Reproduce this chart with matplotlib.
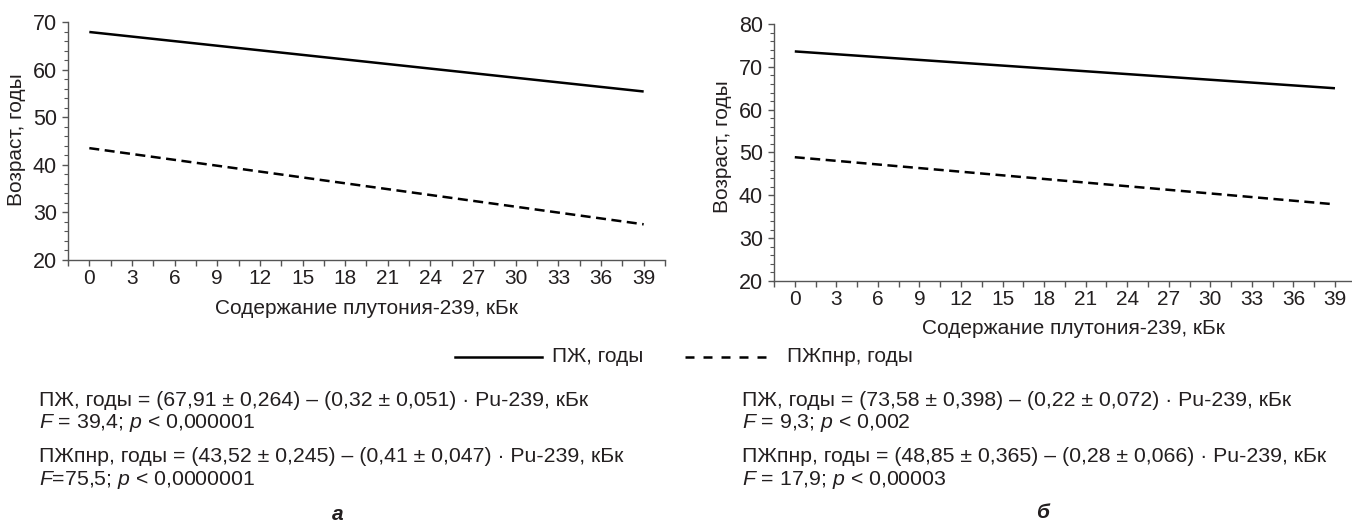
import matplotlib
matplotlib.use("Agg")
import matplotlib.pyplot as plt
from matplotlib.lines import Line2D
from matplotlib.ticker import MultipleLocator

plt.rcParams['font.family'] = ['Liberation Sans', 'DejaVu Sans']
plt.rcParams['mathtext.fontset'] = 'custom'
plt.rcParams['mathtext.rm'] = 'Liberation Sans'
plt.rcParams['mathtext.it'] = 'Liberation Sans:italic'

# ---- data ----
x_ends = [0, 39]
a_pzh = [67.9, 55.4]
a_pzhpnr = [43.5, 27.5]
b_pzh = [73.6, 65.0]
b_pzhpnr = [48.9, 37.9]
x_ticks = list(range(0, 40, 3))
a_yticks = [20, 30, 40, 50, 60, 70]
b_yticks = [20, 30, 40, 50, 60, 70, 80]

xlabel = "Содержание плутония-239, кБк"
ylabel = "Возраст, годы"
leg1 = "ПЖ, годы"
leg2 = "ПЖпнр, годы"

eq_a = ["ПЖ, годы = (67,91 ± 0,264) – (0,32 ± 0,051) · Pu-239, кБк",
        "$\\mathit{F}$ = 39,4; $\\mathit{p}$ < 0,000001",
        "ПЖпнр, годы = (43,52 ± 0,245) – (0,41 ± 0,047) · Pu-239, кБк",
        "$\\mathit{F}$=75,5; $\\mathit{p}$ < 0,0000001"]
eq_b = ["ПЖ, годы = (73,58 ± 0,398) – (0,22 ± 0,072) · Pu-239, кБк",
        "$\\mathit{F}$ = 9,3; $\\mathit{p}$ < 0,002",
        "ПЖпнр, годы = (48,85 ± 0,365) – (0,28 ± 0,066) · Pu-239, кБк",
        "$\\mathit{F}$ = 17,9; $\\mathit{p}$ < 0,00003"]

W, H = 1352, 522
fig = plt.figure(figsize=(W / 100, H / 100), dpi=100)

def fx(px):
    return px / W

def fy(py):
    return 1 - py / H

spine_col = '#555555'
txt_col = '#231f20'
FS = 15
LW = 1.8

def make_ax(rect, ylim, yticks, xlim):
    ax = fig.add_axes(rect)
    ax.set_xlim(*xlim)
    ax.set_ylim(*ylim)
    for s in ['top', 'right']:
        ax.spines[s].set_visible(False)
    for s in ['left', 'bottom']:
        ax.spines[s].set_color(spine_col)
        ax.spines[s].set_linewidth(1.0)
    ax.set_xticks(x_ticks)
    ax.xaxis.set_minor_locator(MultipleLocator(1.5))
    ax.set_yticks(yticks)
    ax.yaxis.set_minor_locator(MultipleLocator(2))
    ax.tick_params(axis='x', which='both', direction='out', length=4, width=1,
                   color=spine_col, labelsize=FS, pad=2.5, labelcolor=txt_col)
    ax.tick_params(axis='y', which='major', direction='out', length=4, width=1,
                   color=spine_col, labelsize=FS + 0.5, pad=4, labelcolor=txt_col)
    ax.tick_params(axis='y', which='minor', direction='out', length=3, width=0.8,
                   color=spine_col)
    ax.patch.set_alpha(0)
    return ax

dash_plot = (4.0, 2.2)

ax1 = make_ax([fx(68), fy(260), fx(665) - fx(68), fy(22) - fy(260)],
              (20, 70), a_yticks, (-1.5, 40.5))
ax1.plot(x_ends, a_pzh, color='black', lw=LW, solid_capstyle='butt')
ax1.plot(x_ends, a_pzhpnr, color='black', lw=LW, ls=(0, dash_plot))

ax2 = make_ax([fx(774), fy(281), 1 - fx(774), fy(24) - fy(281)],
              (20, 80), b_yticks, (-1.5, 40.23))
ax2.plot(x_ends, b_pzh, color='black', lw=LW, solid_capstyle='butt')
ax2.plot(x_ends, b_pzhpnr, color='black', lw=LW, ls=(0, dash_plot))

# axis labels
fig.text(fx(17), fy(140), ylabel, rotation=90, ha='center', va='center',
         fontsize=FS, color=txt_col)
fig.text(fx(722), fy(147), ylabel, rotation=90, ha='center', va='center',
         fontsize=FS, color=txt_col)
fig.text(fx(366), fy(308), xlabel, ha='center', va='center', fontsize=FS, color=txt_col)
fig.text(fx(1073), fy(328), xlabel, ha='center', va='center', fontsize=FS, color=txt_col)

# legend (drawn in figure coordinates)
ly = fy(357)
fig.add_artist(Line2D([fx(455), fx(542)], [ly, ly], color='black', lw=LW,
                      transform=fig.transFigure))
fig.text(fx(552), ly, leg1, ha='left', va='center', fontsize=FS, color=txt_col)
fig.add_artist(Line2D([fx(685), fx(770)], [ly, ly], color='black', lw=LW,
                      ls=(0, (3.6, 3.6)), transform=fig.transFigure))
fig.text(fx(787), ly, leg2, ha='left', va='center', fontsize=FS, color=txt_col)

# equations
line_y = [400, 423, 457, 480]
for t, yy in zip(eq_a, line_y):
    fig.text(fx(39), fy(yy), t, ha='left', va='center', fontsize=FS + 0.3, color=txt_col)
for t, yy in zip(eq_b, line_y):
    fig.text(fx(742), fy(yy), t, ha='left', va='center', fontsize=FS + 0.3, color=txt_col)

fig.text(fx(338), fy(514), "а", ha='center', va='center', fontsize=FS,
         fontweight='bold', fontstyle='italic', color=txt_col)
fig.text(fx(1042), fy(513), "б", ha='center', va='center', fontsize=FS,
         fontweight='bold', fontstyle='italic', color=txt_col)

fig.savefig("out.png", dpi=100)
